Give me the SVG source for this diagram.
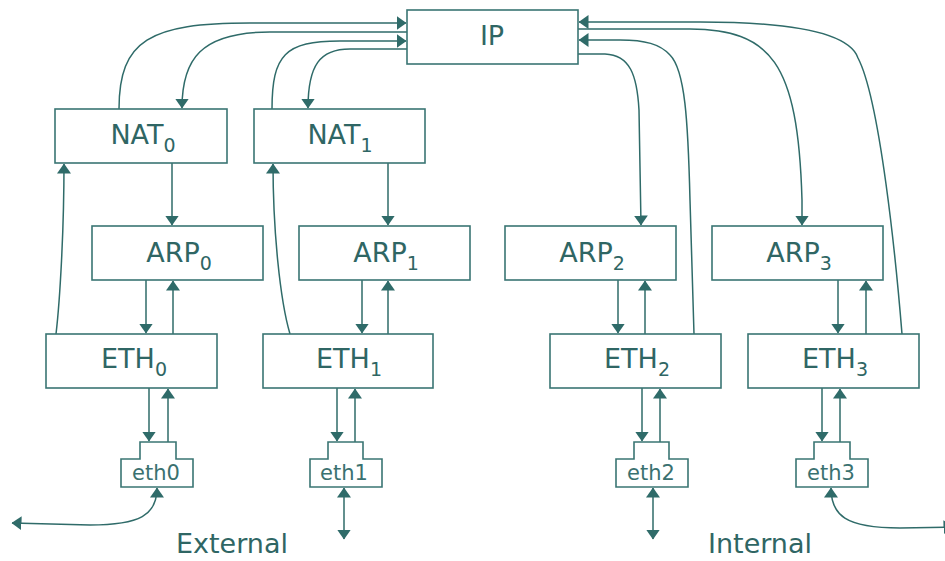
<svg xmlns="http://www.w3.org/2000/svg" width="945" height="561" viewBox="0 0 945 561">
<style>
.box{fill:#fff;stroke:#3a7573;stroke-width:1.6}
.lbl{font-family:"DejaVu Sans",sans-serif;font-size:27px;fill:#2f6664;text-anchor:middle}
.sub{font-size:19px}
.small{font-family:"DejaVu Sans",sans-serif;font-size:21px;fill:#3a7170;text-anchor:middle}
.c{fill:none;stroke:#2f6b69;stroke-width:1.5}
</style>
<defs>
<marker id="a" markerUnits="userSpaceOnUse" markerWidth="10" markerHeight="14" refX="9.5" refY="7" orient="auto-start-reverse" viewBox="0 0 10 14">
<path d="M0,0 L10,7 L0,14 Z" fill="#2f6b69"/>
</marker>
</defs>
<rect width="945" height="561" fill="#fff"/>
<g id="connectors">
<path class="c" d="M119,109 C119,40 150,23 250,23 L406,23" marker-end="url(#a)"/>
<path class="c" d="M407,32 L270,32 C200,32 182,60 182,108" marker-end="url(#a)"/>
<path class="c" d="M272,109 C272,55 285,41 340,41 L406,41" marker-end="url(#a)"/>
<path class="c" d="M407,49 L350,49 C320,49 308,65 308,108" marker-end="url(#a)"/>
<path class="c" d="M902,334 C896,260 880,100 858,58 C850,35 800,22 700,22 L579,22" marker-end="url(#a)"/>
<path class="c" d="M578,29 L690,29 C770,30 798,60 802,200 L802,225" marker-end="url(#a)"/>
<path class="c" d="M694,334 L690,200 C688,120 685,70 670,55 C660,44 645,40 620,40 L579,40" marker-end="url(#a)"/>
<path class="c" d="M578,54 L605,54 C630,55 637,75 639,110 L641,225" marker-end="url(#a)"/>
<path class="c" d="M172,163 V225" marker-end="url(#a)"/>
<path class="c" d="M388,163 V225" marker-end="url(#a)"/>
<path class="c" d="M56,334 C60,300 64,230 64,164" marker-end="url(#a)"/>
<path class="c" d="M290,334 C280,300 273,230 273,164" marker-end="url(#a)"/>
<path class="c" d="M146,280 V333" marker-end="url(#a)"/>
<path class="c" d="M173,334 V281" marker-end="url(#a)"/>
<path class="c" d="M362,280 V333" marker-end="url(#a)"/>
<path class="c" d="M388,334 V281" marker-end="url(#a)"/>
<path class="c" d="M618,280 V333" marker-end="url(#a)"/>
<path class="c" d="M645,334 V281" marker-end="url(#a)"/>
<path class="c" d="M838,280 V333" marker-end="url(#a)"/>
<path class="c" d="M866,334 V281" marker-end="url(#a)"/>
<path class="c" d="M149,388 V441" marker-end="url(#a)"/>
<path class="c" d="M168,442 V389" marker-end="url(#a)"/>
<path class="c" d="M337,388 V441" marker-end="url(#a)"/>
<path class="c" d="M355,442 V389" marker-end="url(#a)"/>
<path class="c" d="M642,388 V441" marker-end="url(#a)"/>
<path class="c" d="M660,442 V389" marker-end="url(#a)"/>
<path class="c" d="M822,388 V441" marker-end="url(#a)"/>
<path class="c" d="M840,442 V389" marker-end="url(#a)"/>
<path class="c" d="M157,488 C157,515 140,525 90,525 L12,523" marker-start="url(#a)" marker-end="url(#a)"/>
<path class="c" d="M344,488 V539" marker-start="url(#a)" marker-end="url(#a)"/>
<path class="c" d="M653,488 V539" marker-start="url(#a)" marker-end="url(#a)"/>
<path class="c" d="M831,488 C831,515 845,528 900,528 L953,527" marker-start="url(#a)" marker-end="url(#a)"/>
</g>
<g id="IP"><rect class="box" x="407" y="10" width="171" height="54"/><text class="lbl" x="492" y="45">IP</text></g>
<g id="NAT0"><rect class="box" x="55" y="109" width="172" height="54"/><text class="lbl" x="143" y="144">NAT<tspan class="sub" dy="8">0</tspan></text></g>
<g id="NAT1"><rect class="box" x="254" y="109" width="171" height="54"/><text class="lbl" x="340" y="144">NAT<tspan class="sub" dy="8">1</tspan></text></g>
<g id="ARP0"><rect class="box" x="92" y="226" width="171" height="54"/><text class="lbl" x="179" y="262">ARP<tspan class="sub" dy="8">0</tspan></text></g>
<g id="ARP1"><rect class="box" x="299" y="226" width="171" height="54"/><text class="lbl" x="386" y="262">ARP<tspan class="sub" dy="8">1</tspan></text></g>
<g id="ARP2"><rect class="box" x="505" y="226" width="171" height="54"/><text class="lbl" x="592" y="262">ARP<tspan class="sub" dy="8">2</tspan></text></g>
<g id="ARP3"><rect class="box" x="712" y="226" width="171" height="54"/><text class="lbl" x="799" y="262">ARP<tspan class="sub" dy="8">3</tspan></text></g>
<g id="ETH0"><rect class="box" x="46" y="334" width="171" height="54"/><text class="lbl" x="134" y="368">ETH<tspan class="sub" dy="8">0</tspan></text></g>
<g id="ETH1"><rect class="box" x="263" y="334" width="170" height="54"/><text class="lbl" x="349" y="368">ETH<tspan class="sub" dy="8">1</tspan></text></g>
<g id="ETH2"><rect class="box" x="550" y="334" width="171" height="54"/><text class="lbl" x="637" y="368">ETH<tspan class="sub" dy="8">2</tspan></text></g>
<g id="ETH3"><rect class="box" x="748" y="334" width="171" height="54"/><text class="lbl" x="835" y="368">ETH<tspan class="sub" dy="8">3</tspan></text></g>
<g id="eth0"><path class="box" d="M121,487 V459 H140 V442 H176 V459 H193 V487 Z"/><text class="small" x="156" y="480">eth0</text></g>
<g id="eth1"><path class="box" d="M310,487 V459 H328 V442 H363 V459 H382 V487 Z"/><text class="small" x="344" y="480">eth1</text></g>
<g id="eth2"><path class="box" d="M616,487 V459 H634 V442 H669 V459 H688 V487 Z"/><text class="small" x="651" y="480">eth2</text></g>
<g id="eth3"><path class="box" d="M796,487 V459 H814 V442 H850 V459 H868 V487 Z"/><text class="small" x="831" y="480">eth3</text></g>
<g id="labels">
<text class="lbl" x="232" y="553">External</text>
<text class="lbl" x="760" y="553">Internal</text>
</g>
</svg>
